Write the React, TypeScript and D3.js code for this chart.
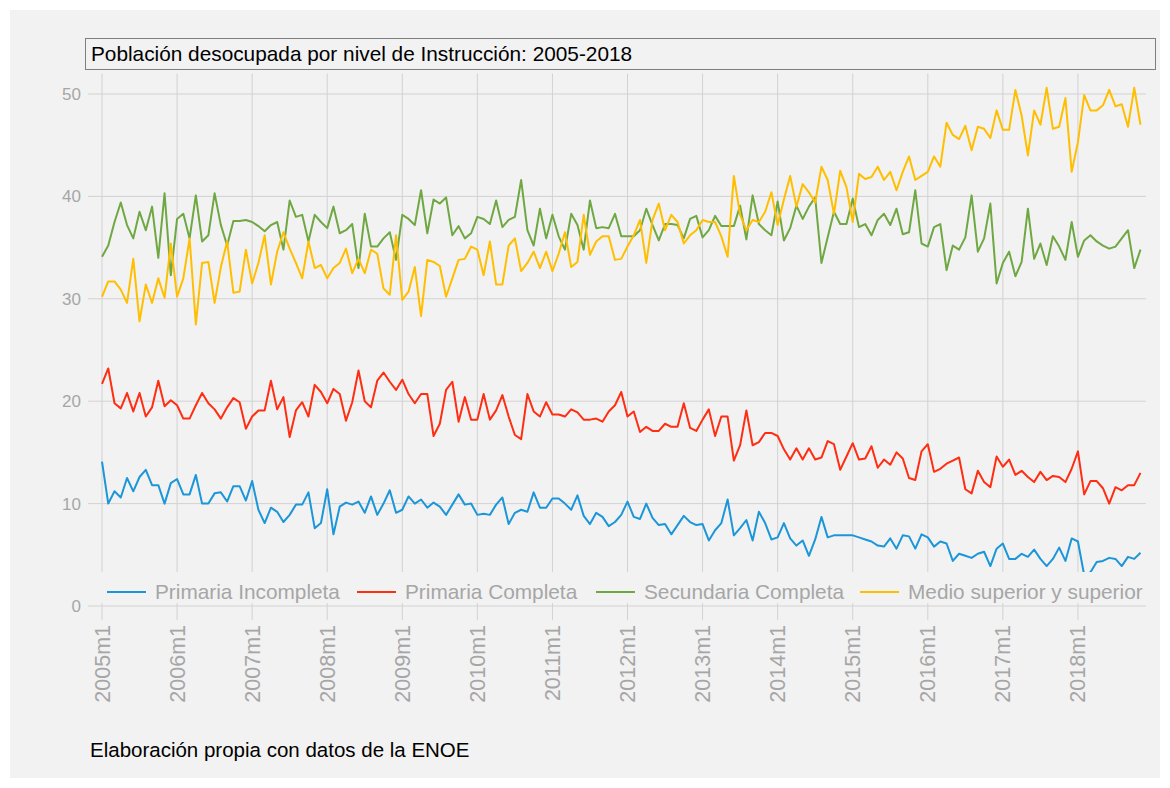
import { useEffect, useRef } from "react";
import * as d3 from "d3";

// Población desocupada por nivel de instrucción, mensual 2005m1 - 2018m11
const primariaIncompleta = [
  14.1, 10.0, 11.2, 10.6, 12.5, 11.2, 12.6, 13.3, 11.8, 11.8, 10.0, 12.0,
  12.4, 10.9, 10.9, 12.8, 10.0, 10.0, 11.0, 11.1, 10.2, 11.7, 11.7, 10.3,
  12.2, 9.4, 8.1, 9.6, 9.2, 8.2, 8.9, 9.9, 9.9, 11.1, 7.6, 8.1,
  11.4, 7.0, 9.7, 10.1, 9.9, 10.2, 9.1, 10.7, 8.9, 10.0, 11.3, 9.1,
  9.4, 10.7, 10.0, 10.4, 9.6, 10.1, 9.7, 8.9, 9.9, 10.9, 9.9, 10.0,
  8.9, 9.0, 8.9, 9.9, 10.6, 8.0, 9.1, 9.4, 9.2, 11.1, 9.6, 9.6,
  10.5, 10.5, 10.0, 9.4, 10.8, 8.8, 8.0, 9.1, 8.7, 7.8, 8.2, 8.9,
  10.2, 8.7, 8.5, 10.0, 8.6, 7.9, 8.0, 7.0, 7.9, 8.8, 8.2, 7.9,
  8.0, 6.4, 7.4, 8.1, 10.4, 6.9, 7.6, 8.4, 6.4, 9.2, 8.1, 6.5,
  6.7, 8.1, 6.6, 5.9, 6.4, 4.9, 6.5, 8.7, 6.7, 6.9, 6.9, 6.9,
  6.9, 6.7, 6.5, 6.3, 5.9, 5.8, 6.6, 5.6, 6.9, 6.8, 5.6, 7.0,
  6.7, 5.8, 6.3, 6.1, 4.4, 5.1, 4.9, 4.7, 5.1, 5.3, 3.9, 5.6,
  6.1, 4.6, 4.6, 5.1, 4.8, 5.5, 4.6, 3.9, 4.6, 5.7, 4.4, 6.6,
  6.3, 3.0, 3.3, 4.3, 4.4, 4.7, 4.6, 3.9, 4.8, 4.6, 5.2,
];

const primariaCompleta = [
  21.7, 23.2, 19.8, 19.3, 20.8, 19.0, 20.8, 18.5, 19.4, 22.0, 19.5, 20.1,
  19.6, 18.3, 18.3, 19.6, 20.8, 19.8, 19.2, 18.3, 19.4, 20.3, 19.9, 17.3,
  18.5, 19.1, 19.1, 22.0, 19.2, 20.4, 16.5, 19.1, 19.9, 18.5, 21.6, 20.9,
  19.8, 21.2, 20.7, 18.1, 19.9, 23.0, 20.0, 19.4, 22.0, 22.8, 21.9, 21.1,
  22.1, 20.7, 19.8, 20.7, 20.7, 16.6, 17.8, 21.1, 21.9, 18.0, 20.4, 18.2,
  18.2, 20.7, 18.2, 19.1, 20.6, 18.5, 16.7, 16.3, 20.7, 19.0, 18.5, 19.9,
  18.7, 18.7, 18.5, 19.2, 18.9, 18.2, 18.2, 18.3, 18.0, 19.0, 19.6, 20.9,
  18.5, 19.0, 17.0, 17.5, 17.1, 17.1, 17.8, 17.5, 17.5, 19.8, 17.4, 17.1,
  18.2, 19.2, 16.6, 18.5, 18.5, 14.2, 15.7, 19.1, 15.7, 16.0, 16.9, 16.9,
  16.6, 15.3, 14.3, 15.4, 14.3, 15.4, 14.3, 14.5, 16.1, 15.8, 13.3, 14.6,
  15.9, 14.3, 14.4, 15.6, 13.5, 14.3, 13.8, 15.0, 14.4, 12.5, 12.3, 15.1,
  15.8, 13.1, 13.4, 13.9, 14.2, 14.5, 11.4, 11.0, 13.2, 12.1, 11.6, 14.6,
  13.6, 14.3, 12.8, 13.2, 12.6, 12.1, 13.1, 12.3, 12.7, 12.6, 12.1, 13.4,
  15.1, 10.9, 12.2, 12.2, 11.5, 10.0, 11.6, 11.3, 11.8, 11.8, 13.0,
];

const secundariaCompleta = [
  34.1, 35.2, 37.5, 39.4, 37.2, 35.9, 38.5, 36.7, 39.0, 34.0, 40.3, 32.3,
  37.8, 38.3, 35.9, 40.1, 35.6, 36.2, 40.3, 37.2, 35.2, 37.6, 37.6, 37.7,
  37.5, 37.1, 36.6, 37.2, 37.5, 34.8, 39.6, 38.0, 38.2, 35.6, 38.2, 37.5,
  36.9, 39.0, 36.4, 36.7, 37.3, 33.0, 38.3, 35.1, 35.1, 35.9, 36.5, 33.8,
  38.2, 37.8, 37.2, 40.6, 36.4, 39.7, 39.3, 39.9, 36.2, 37.1, 35.9, 36.4,
  38.0, 37.8, 37.3, 39.6, 37.0, 37.7, 38.0, 41.6, 36.7, 35.2, 38.8, 35.9,
  38.2, 36.1, 34.8, 38.3, 37.2, 34.8, 39.6, 36.9, 37.0, 36.9, 38.3, 36.1,
  36.1, 36.1, 36.7, 38.8, 37.2, 35.7, 37.3, 37.3, 37.2, 35.9, 37.8, 38.1,
  36.0, 36.7, 38.1, 37.1, 37.1, 37.1, 39.1, 35.8, 40.1, 37.3, 36.7, 36.2,
  39.5, 35.7, 36.9, 39.1, 37.8, 39.0, 39.9, 33.5, 36.0, 38.5, 37.3, 37.3,
  39.8, 37.0, 37.3, 36.2, 37.7, 38.3, 37.2, 38.8, 36.3, 36.5, 40.6, 35.4,
  35.1, 37.0, 37.3, 32.8, 35.2, 34.8, 36.0, 40.1, 34.6, 35.9, 39.3, 31.5,
  33.5, 34.6, 32.2, 33.6, 38.8, 33.9, 35.4, 33.3, 36.1, 35.1, 33.8, 37.5,
  34.1, 35.7, 36.2, 35.6, 35.2, 34.9, 35.1, 35.9, 36.7, 33.0, 34.8,
];

const medioSuperior = [
  30.2, 31.7, 31.7, 30.9, 29.6, 33.9, 27.8, 31.4, 29.6, 32.0, 30.1, 35.4,
  30.2, 32.0, 35.9, 27.5, 33.5, 33.6, 29.6, 33.1, 35.6, 30.6, 30.7, 34.8,
  31.5, 33.5, 36.2, 31.4, 34.6, 36.5, 34.9, 33.5, 32.0, 35.6, 33.0, 33.3,
  32.0, 33.0, 33.5, 34.9, 32.5, 33.9, 32.5, 34.8, 34.4, 31.0, 30.4, 36.2,
  29.9, 30.7, 33.1, 28.3, 33.8, 33.6, 33.2, 30.2, 32.0, 33.8, 33.9, 35.1,
  34.8, 32.3, 35.6, 31.4, 31.4, 35.2, 35.9, 32.7, 33.5, 34.6, 33.0, 34.6,
  32.7, 34.4, 36.5, 33.1, 33.6, 38.2, 34.3, 35.6, 36.1, 36.1, 33.8, 33.9,
  35.1, 36.2, 37.7, 33.5, 37.7, 39.3, 36.7, 38.2, 37.5, 35.4, 36.2, 36.7,
  37.7, 37.5, 37.5, 36.1, 34.1, 42.0, 38.2, 36.7, 37.7, 37.5, 38.5, 40.4,
  37.2, 39.7, 42.0, 39.0, 41.2, 40.4, 39.4, 42.9, 41.6, 38.3, 42.5, 40.9,
  37.5, 42.2, 41.7, 41.9, 42.9, 41.6, 42.4, 40.6, 42.4, 43.9, 41.6, 42.0,
  42.4, 43.9, 42.9, 47.2, 46.0, 45.6, 46.9, 44.5, 46.8, 46.6, 45.7, 48.4,
  46.5, 46.5, 50.4, 47.9, 44.0, 48.4, 47.0, 50.6, 46.6, 46.8, 49.6, 42.4,
  45.3, 49.9, 48.4, 48.4, 48.9, 50.4, 48.8, 49.0, 46.8, 50.6, 47.0,
];

const seriesNames = ["Primaria Incompleta", "Primaria Completa", "Secundaria Completa", "Medio superior y superior"];
const seriesColors = ["#1b96d8", "#ff2d12", "#6fa842", "#ffbf00"];
const yTicks = [0, 10, 20, 30, 40, 50];
const xTickLabels = [
  "2005m1", "2006m1", "2007m1", "2008m1", "2009m1", "2010m1", "2011m1",
  "2012m1", "2013m1", "2014m1", "2015m1", "2016m1", "2017m1", "2018m1",
];

const titleText = "Población desocupada por nivel de Instrucción: 2005-2018";
const captionText = "Elaboración propia con datos de la ENOE";

export default function App() {
  const svgRef = useRef<SVGSVGElement>(null);

  useEffect(() => {
    const width = 1170;
    const height = 788;
    const font = "'Liberation Sans', Arial, sans-serif";

    const svg = d3.select(svgRef.current);
    svg.selectAll("*").remove();
    svg.attr("width", width).attr("height", height);

    // fondo
    svg.append("rect").attr("width", width).attr("height", height).attr("fill", "#ffffff");
    svg.append("rect")
      .attr("x", 10).attr("y", 10)
      .attr("width", width - 20).attr("height", height - 20)
      .attr("fill", "#f2f2f2");

    const allSeries = [primariaIncompleta, primariaCompleta, secundariaCompleta, medioSuperior];
    const n = primariaIncompleta.length;

    const x = d3.scaleLinear().domain([0, n - 1]).range([102, 1140.5]);
    const y = d3.scaleLinear().domain([0, 50]).range([606, 94]);

    const left = 88;
    const right = 1146;

    // rejilla horizontal
    svg.append("g")
      .selectAll("line")
      .data(yTicks)
      .join("line")
      .attr("x1", left).attr("x2", right)
      .attr("y1", d => y(d)).attr("y2", d => y(d))
      .attr("stroke", "#d2d2d2").attr("stroke-width", 1);

    // rejilla vertical (enero de cada año)
    svg.append("g")
      .selectAll("line")
      .data(xTickLabels)
      .join("line")
      .attr("x1", (_, i) => x(i * 12)).attr("x2", (_, i) => x(i * 12))
      .attr("y1", y(52)).attr("y2", 620)
      .attr("stroke", "#d2d2d2").attr("stroke-width", 1);

    // etiquetas eje y
    svg.append("g")
      .selectAll("text")
      .data(yTicks)
      .join("text")
      .attr("x", 81).attr("y", d => y(d))
      .attr("dy", "0.35em")
      .attr("text-anchor", "end")
      .attr("font-family", font).attr("font-size", 17)
      .attr("fill", "#a6a6a6")
      .text(d => d);

    // etiquetas eje x (rotadas)
    svg.append("g")
      .selectAll("text")
      .data(xTickLabels)
      .join("text")
      .attr("transform", (_, i) => `translate(${x(i * 12)},625) rotate(-90)`)
      .attr("dy", "0.35em")
      .attr("text-anchor", "end")
      .attr("font-family", font).attr("font-size", 21.5)
      .attr("fill", "#a6a6a6")
      .text(d => d);

    // líneas
    const line = d3.line<number>()
      .x((_, i) => x(i))
      .y(d => y(d));

    svg.append("g")
      .selectAll("path")
      .data(allSeries)
      .join("path")
      .attr("d", d => line(d))
      .attr("fill", "none")
      .attr("stroke", (_, i) => seriesColors[i])
      .attr("stroke-width", 2)
      .attr("stroke-linejoin", "round");

    // leyenda
    svg.append("rect")
      .attr("x", 97).attr("y", 572)
      .attr("width", 1052).attr("height", 31)
      .attr("fill", "#f2f2f2");

    const legendTextX = [155, 405, 644, 908];
    const legend = svg.append("g")
      .selectAll("g")
      .data(seriesNames)
      .join("g")
      .attr("transform", (_, i) => `translate(${legendTextX[i]},592)`);
    legend.append("line")
      .attr("x1", -48).attr("x2", -9)
      .attr("stroke", (_, i) => seriesColors[i])
      .attr("stroke-width", 2);
    legend.append("text")
      .attr("dy", "0.35em")
      .attr("font-family", font).attr("font-size", 20.8)
      .attr("fill", "#a6a6a6")
      .text(d => d);

    // título
    svg.append("rect")
      .attr("x", 85.5).attr("y", 38.5)
      .attr("width", 1070).attr("height", 31)
      .attr("fill", "#f2f2f2")
      .attr("stroke", "#7f7f7f");
    svg.append("text")
      .attr("x", 91).attr("y", 61)
      .attr("font-family", font).attr("font-size", 20.8)
      .attr("fill", "#000")
      .text(titleText);

    // fuente
    svg.append("text")
      .attr("x", 90).attr("y", 757)
      .attr("font-family", font).attr("font-size", 20.5)
      .attr("fill", "#000")
      .text(captionText);
  }, []);

  return (
    <div style={{ position: "absolute", left: 0, top: 0 }}>
      <svg ref={svgRef}></svg>
    </div>
  );
}
